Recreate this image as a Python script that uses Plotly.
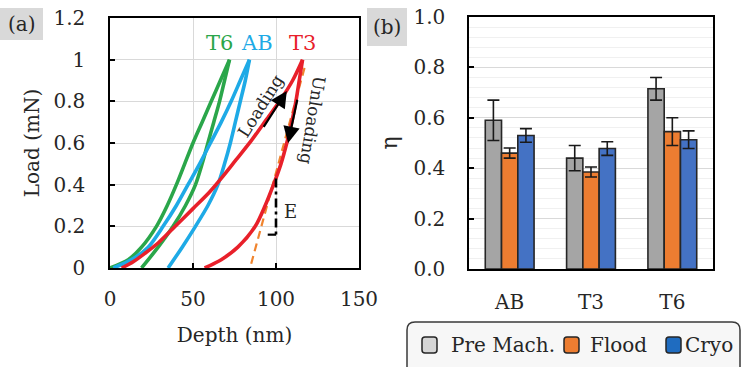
import plotly.graph_objects as go

# ---------------- Panel (a) data: load-depth curves ----------------
t6_load_depth = [0, 11, 19, 28, 34.5, 40, 45, 50, 55.5, 61, 66.5, 72]
t6_load_load = [0, 0.04, 0.10, 0.20, 0.30, 0.40, 0.50, 0.60, 0.70, 0.80, 0.90, 1.00]
t6_unload_depth = [72, 69, 66, 62.5, 59, 55.5, 51.5, 45.5, 38, 29, 19]
t6_unload_load = [1.00, 0.90, 0.80, 0.70, 0.60, 0.50, 0.40, 0.30, 0.20, 0.10, 0]

ab_load_depth = [2, 13, 23, 32, 40, 47, 54, 60.5, 67, 73, 78.5, 84]
ab_load_load = [0, 0.04, 0.10, 0.20, 0.30, 0.40, 0.50, 0.60, 0.70, 0.80, 0.90, 1.00]
ab_unload_depth = [84, 81.5, 78.5, 75.5, 72.5, 69, 65, 59, 51.5, 43.5, 35]
ab_unload_load = [1.00, 0.90, 0.80, 0.70, 0.60, 0.50, 0.40, 0.30, 0.20, 0.10, 0]

t3_load_depth = [7, 14, 21, 29, 39, 50, 60, 68, 76, 85, 94, 103, 110, 116]
t3_load_load = [0, 0.03, 0.07, 0.12, 0.198, 0.285, 0.365, 0.44, 0.52, 0.61, 0.71, 0.81, 0.90, 1.00]
t3_unload_depth = [116, 114, 112, 109.5, 106.5, 103, 98.5, 93.5, 87.5, 77, 67, 57]
t3_unload_load = [1.00, 0.90, 0.80, 0.70, 0.60, 0.50, 0.40, 0.30, 0.20, 0.10, 0.04, 0]

tangent_depth = [83, 117.5]
tangent_load = [-0.04, 0.97]

e_vert_depth = [100, 100]
e_vert_load = [0.43, 0.16]
e_horz_depth = [95, 100]
e_horz_load = [0.16, 0.16]

loading_arrow_tail = (92, 0.67)
loading_arrow_tip = (106.5, 0.85)
unloading_arrow_tail = (113, 0.815)
unloading_arrow_tip = (107.3, 0.60)

series_names_a = ["T6", "AB", "T3"]
series_label_depth = [66, 88.5, 116]
series_label_load = 1.08

x_ticks_a = [0, 50, 100, 150]
x_ticklabels_a = ["0", "50", "100", "150"]
y_ticks_a = [0, 0.2, 0.4, 0.6, 0.8, 1.0, 1.2]
y_ticklabels_a = ["0", "0.2", "0.4", "0.6", "0.8", "1", "1.2"]

# ---------------- Panel (b) data: eta bars ----------------
categories = ["AB", "T3", "T6"]
series_names_b = ["Pre Mach.", "Flood", "Cryo"]
pre_mach = [0.59, 0.44, 0.715]
pre_mach_err = [0.08, 0.05, 0.045]
flood = [0.46, 0.385, 0.545]
flood_err = [0.02, 0.02, 0.055]
cryo = [0.53, 0.478, 0.513]
cryo_err = [0.027, 0.027, 0.035]

# ---------------- styling ----------------
FONT = "DejaVu Serif"
TXT = "#262626"
GREEN = "#2aa64a"
BLUE = "#1eaae6"
RED = "#e8202a"
ORANGE = "#f0842e"
BAR_COLORS = ["#a5a5a5", "#ed7d31", "#4472c4"]
LEGEND_SWATCH = ["#d6d6d6", "#ed7d31", "#1f6cc0"]
W, H = 741, 367


def PX(p):
    return p / W


def PY(p):
    return 1 - p / H


def rounded_rect(x0, y0, x1, y1, r):
    return (f"M {PX(x0 + r)},{PY(y0)} L {PX(x1 - r)},{PY(y0)} Q {PX(x1)},{PY(y0)} {PX(x1)},{PY(y0 + r)} "
            f"L {PX(x1)},{PY(y1 - r)} Q {PX(x1)},{PY(y1)} {PX(x1 - r)},{PY(y1)} "
            f"L {PX(x0 + r)},{PY(y1)} Q {PX(x0)},{PY(y1)} {PX(x0)},{PY(y1 - r)} "
            f"L {PX(x0)},{PY(y0 + r)} Q {PX(x0)},{PY(y0)} {PX(x0 + r)},{PY(y0)} Z")


fig = go.Figure()

line_w = 3.6
spl = dict(shape="spline", smoothing=0.8)
for dx, dy, col in [
    (t6_load_depth, t6_load_load, GREEN),
    (t6_unload_depth, t6_unload_load, GREEN),
    (ab_load_depth, ab_load_load, BLUE),
    (ab_unload_depth, ab_unload_load, BLUE),
]:
    fig.add_trace(go.Scatter(x=dx, y=dy, mode="lines", line=dict(color=col, width=line_w, **spl),
                             showlegend=False, hoverinfo="skip", xaxis="x", yaxis="y"))

fig.add_trace(go.Scatter(x=tangent_depth, y=tangent_load, mode="lines",
                         line=dict(color=ORANGE, width=2.2, dash="8px,5px"),
                         showlegend=False, hoverinfo="skip", xaxis="x", yaxis="y"))

for dx, dy in [(t3_load_depth, t3_load_load), (t3_unload_depth, t3_unload_load)]:
    fig.add_trace(go.Scatter(x=dx, y=dy, mode="lines", line=dict(color=RED, width=line_w, **spl),
                             showlegend=False, hoverinfo="skip", xaxis="x", yaxis="y"))

fig.add_trace(go.Scatter(x=e_vert_depth, y=e_vert_load, mode="lines",
                         line=dict(color="black", width=2.6, dash="9px,4px,3px,4px"),
                         showlegend=False, hoverinfo="skip", xaxis="x", yaxis="y"))
fig.add_trace(go.Scatter(x=e_horz_depth, y=e_horz_load, mode="lines",
                         line=dict(color="black", width=2.2),
                         showlegend=False, hoverinfo="skip", xaxis="x", yaxis="y"))

# ---------------- Panel (b) bars ----------------
bar_line = dict(color="#262626", width=1.6)
err_style = dict(type="data", color="#1a1a1a", thickness=1.6, width=6)
for name, vals, errs, col in zip(series_names_b, [pre_mach, flood, cryo], [pre_mach_err, flood_err, cryo_err], BAR_COLORS):
    fig.add_trace(go.Bar(x=categories, y=vals, name=name, marker=dict(color=col, line=bar_line),
                         error_y=dict(array=errs, **err_style), xaxis="x2", yaxis="y2", showlegend=False))

tickfont = dict(family=FONT, size=20, color=TXT)
axis_common = dict(showline=True, linecolor="black", linewidth=1.5, mirror=True,
                   ticks="inside", ticklen=5, tickcolor="black", tickwidth=1.5,
                   tickfont=tickfont, zeroline=False, automargin=False)

fig.update_layout(
    width=W, height=H,
    margin=dict(l=0, r=0, t=0, b=0),
    paper_bgcolor="white", plot_bgcolor="white",
    font=dict(family=FONT, size=20, color=TXT),
    barmode="group", bargap=0.40, bargroupgap=0.0,
    showlegend=False,
    xaxis=dict(domain=[PX(110), PX(359)], anchor="y", range=[0, 150],
               tickvals=x_ticks_a, ticktext=x_ticklabels_a,
               showgrid=True, gridcolor="#d9d9d9", gridwidth=1,
               ticklabelstandoff=12,
               title=dict(text="Depth (nm)", font=dict(family=FONT, size=20, color=TXT), standoff=18),
               **axis_common),
    yaxis=dict(domain=[PY(268), PY(18)], anchor="x", range=[0, 1.2],
               tickvals=y_ticks_a, ticktext=y_ticklabels_a,
               showgrid=True, gridcolor="#d9d9d9", gridwidth=1,
               ticklabelstandoff=19,
               title=dict(text="Load (mN)", font=dict(family=FONT, size=20, color=TXT), standoff=8),
               **axis_common),
    xaxis2=dict(domain=[PX(469), PX(713)], anchor="y2", automargin=False,
                showgrid=False, ticks="", showline=True, linecolor="black", linewidth=1.5, mirror=True,
                tickfont=tickfont, ticklabelstandoff=14),
    yaxis2=dict(domain=[PY(269), PY(17)], anchor="x2", range=[0, 1.0], dtick=0.2, tickformat=".1f",
                showgrid=True, gridcolor="#d9d9d9", gridwidth=1,
                minor=dict(dtick=0.04, showgrid=True, gridcolor="#f0f0f0", gridwidth=1, ticks=""),
                ticklabelstandoff=18,
                title=dict(text="η", font=dict(family=FONT, size=22, color=TXT), standoff=10),
                **axis_common),
)

# legend: rounded box, rounded swatches, text
fig.add_shape(type="path", path=rounded_rect(407, 322, 740, 395, 8), xref="paper", yref="paper",
              fillcolor="#f7f7f7", line=dict(color="#3a3a3a", width=1.5), layer="below")
swatch_x = [422, 564, 666]
text_x = [449, 588, 683]
for sx, tx, name, col in zip(swatch_x, text_x, series_names_b, LEGEND_SWATCH):
    fig.add_shape(type="path", path=rounded_rect(sx, 337, sx + 15, 353, 3), xref="paper", yref="paper",
                  fillcolor=col, line=dict(color="#262626", width=1.5))
    fig.add_annotation(xref="paper", yref="paper", x=PX(tx), y=PY(345), text=name, showarrow=False,
                       xanchor="left", yanchor="middle", font=dict(family=FONT, size=20, color=TXT))

# panel labels with gray boxes
for (bx0, by0, bx1, by1, label) in [(0, 8, 43, 40, "(a)"), (367, 8, 407, 46, "(b)")]:
    fig.add_shape(type="rect", xref="paper", yref="paper", x0=PX(bx0), x1=PX(bx1), y0=PY(by1), y1=PY(by0),
                  fillcolor="#d9d9d9", line=dict(width=0), layer="below")
    fig.add_annotation(xref="paper", yref="paper", x=PX((bx0 + bx1) / 2), y=PY((by0 + by1) / 2),
                       text=label, showarrow=False, font=dict(family=FONT, size=20, color=TXT),
                       xanchor="center", yanchor="middle")

# series labels
for name, dx, col in zip(series_names_a, series_label_depth, [GREEN, BLUE, RED]):
    fig.add_annotation(xref="x", yref="y", x=dx, y=series_label_load, text=name, showarrow=False,
                       font=dict(family=FONT, size=21, color=col), xanchor="center", yanchor="middle")

# arrows
for tail, tip in [(loading_arrow_tail, loading_arrow_tip), (unloading_arrow_tail, unloading_arrow_tip)]:
    fig.add_annotation(xref="x", yref="y", axref="x", ayref="y", x=tip[0], y=tip[1], ax=tail[0], ay=tail[1],
                       text="", showarrow=True, arrowhead=2, arrowsize=1.5, arrowwidth=2.2, arrowcolor="black")

fig.add_annotation(xref="x", yref="y", x=90.5, y=0.78, text="Loading", showarrow=False, textangle=-58,
                   font=dict(family=FONT, size=17, color=TXT))
fig.add_annotation(xref="x", yref="y", x=122, y=0.71, text="Unloading", showarrow=False, textangle=99,
                   font=dict(family=FONT, size=17, color=TXT))
fig.add_annotation(xref="x", yref="y", x=109, y=0.27, text="E", showarrow=False,
                   font=dict(family=FONT, size=18, color=TXT))

fig.write_html("out.html", config={"displayModeBar": False},
               post_script="document.body.style.margin='0px';document.body.style.overflow='hidden';")
